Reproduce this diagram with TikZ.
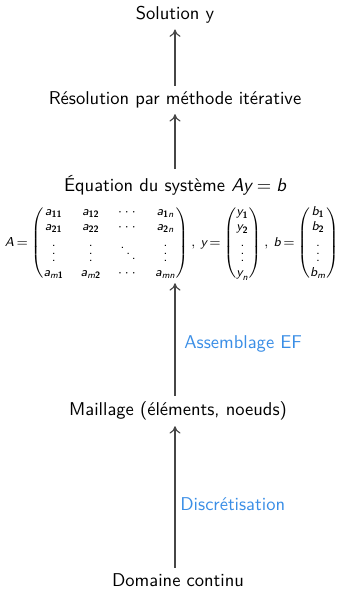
\documentclass[tikz,border=0pt]{standalone}
\usepackage{amsmath}
\usetikzlibrary{arrows.meta}
\definecolor{lblue}{RGB}{58,142,230}
\definecolor{arr}{RGB}{70,70,70}
\newcommand\mv[1]{\text{\sffamily\itshape #1}}
\newcommand\ms[1]{\text{\sffamily\bfseries #1}}
\tikzset{
  lbl/.style={font=\sffamily, inner sep=3pt},
  edgelbl/.style={font=\sffamily, text=lblue, anchor=west, inner sep=0pt},
  flow/.style={draw=arr, line width=0.6pt, -{To[length=4pt,width=6pt]}}
}
\begin{document}
\begin{tikzpicture}[x=0.54pt,y=-0.54pt]
\useasboundingbox (0,0) rectangle (341,589);
\coordinate (axis) at (175,0);
\node[lbl] (sol) at (175,15) {Solution y};
\node[lbl] (res) at (175,100) {Résolution par méthode itérative};
\node[lbl] (eq) at (175,185) {Équation du système $\mv{Ay} = \mv{b}$};
\node[lbl, inner sep=1pt, font=\sffamily\scriptsize] (mat) at (172,243) {\setlength\arraycolsep{4.5pt}\medmuskip=2mu\thickmuskip=3mu$\mv{A}=\begin{pmatrix} \mv{a}_{\ms{11}} & \mv{a}_{\ms{12}} & \cdots & \mv{a}_{\ms{1}\mv{n}}\\ \mv{a}_{\ms{21}} & \mv{a}_{\ms{22}} & \cdots & \mv{a}_{\ms{2}\mv{n}}\\ \vdots & \vdots & \ddots & \vdots\\ \mv{a}_{\mv{m}\ms{1}} & \mv{a}_{\mv{m}\ms{2}} & \cdots & \mv{a}_{\mv{mn}}\end{pmatrix},\, \mv{y}=\begin{pmatrix} \mv{y}_{\ms{1}}\\ \mv{y}_{\ms{2}}\\ \vdots\\ \mv{y}_{\mv{n}}\end{pmatrix},\, \mv{b}=\begin{pmatrix} \mv{b}_{\ms{1}}\\ \mv{b}_{\ms{2}}\\ \vdots\\ \mv{b}_{\mv{m}}\end{pmatrix}$};
\node[lbl] (mesh) at (178,411) {Maillage (éléments, noeuds)};
\node[lbl] (dom) at (178,580) {Domaine continu};
\draw[flow] (res.north -| axis) -- (sol.south -| axis);
\draw[flow] (eq.north -| axis) -- (res.south -| axis);
\draw[flow] (mesh.north -| axis) -- (mat.south -| axis);
\draw[flow] (dom.north -| axis) -- (mesh.south -| axis);
\node[edgelbl] (l1) at (184,344) {Assemblage EF};
\node[edgelbl] (l2) at (180,504) {Discrétisation};
\end{tikzpicture}
\end{document}
